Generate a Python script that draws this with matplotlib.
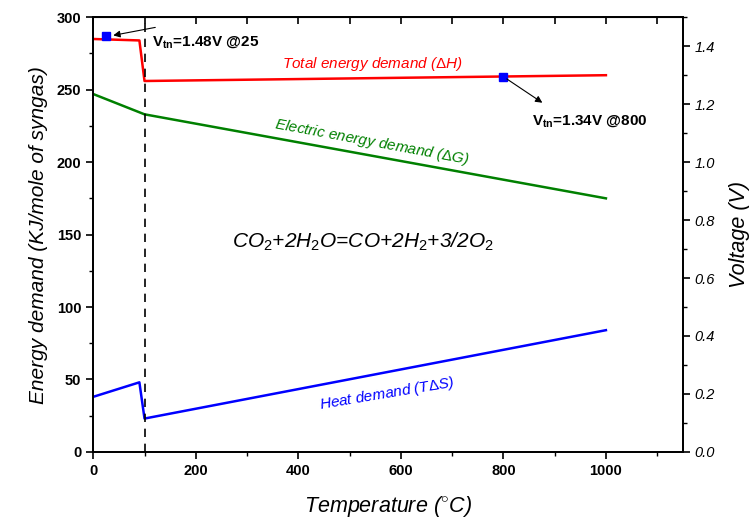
import matplotlib.pyplot as plt
from matplotlib.ticker import MultipleLocator

plt.rcParams['font.family'] = ['Liberation Sans', 'DejaVu Sans']
plt.rcParams['mathtext.fontset'] = 'custom'
plt.rcParams['mathtext.rm'] = 'Liberation Sans'
plt.rcParams['mathtext.it'] = 'Liberation Sans:italic'
plt.rcParams['mathtext.bf'] = 'Liberation Sans:bold'

# data
temp = [0, 90, 100, 1000]
total_dH = [285, 284, 256, 260]
electric_T = [0, 100, 1000]
electric_dG = [247, 233, 175]
heat_TdS = [38, 48, 23, 84]
vtn_temp = [25, 800]
vtn_energy = [287, 259]

fig = plt.figure(figsize=(7.52, 5.23), dpi=100)
ax = fig.add_axes([0.124, 0.136, 0.784, 0.831])

ax.plot(temp, total_dH, color='red', lw=1.8)
ax.plot(electric_T, electric_dG, color='green', lw=1.8)
ax.plot(temp, heat_TdS, color='blue', lw=1.8)
ax.plot(vtn_temp, vtn_energy, 's', color='blue', ms=6, ls='none')
ax.axvline(100, color='black', ls=(0, (5, 4)), lw=1.2)

ax.set_xlim(0, 1150)
ax.set_ylim(0, 300)
ax.xaxis.set_minor_locator(MultipleLocator(100))
ax.yaxis.set_major_locator(MultipleLocator(50))
ax.yaxis.set_minor_locator(MultipleLocator(25))
ax.set_xticks(range(0, 1001, 200))
ax.tick_params(which='major', direction='out', length=5, width=1.2, labelsize=10.5)
ax.tick_params(which='minor', direction='out', length=3, width=1)
for lab in ax.get_xticklabels() + ax.get_yticklabels():
    lab.set_fontweight('bold')
for s in ax.spines.values():
    s.set_linewidth(1.3)

top = ax.secondary_xaxis('top')
top.xaxis.set_major_locator(MultipleLocator(200))
top.xaxis.set_minor_locator(MultipleLocator(100))
top.tick_params(which='both', direction='in', labeltop=False, length=5, width=1.2)

ax.set_xlabel('Temperature ($^{\\circ}$C)', fontsize=15.5, style='italic', labelpad=12)
ax.set_ylabel('Energy demand (KJ/mole of syngas)', fontsize=15, style='italic', labelpad=6)

ax2 = ax.twinx()
ax2.set_ylim(0, 1.5)
ax2.yaxis.set_minor_locator(MultipleLocator(0.1))
ax2.tick_params(which='major', direction='out', length=5, width=1.2, labelsize=10.5)
ax2.tick_params(which='minor', direction='out', length=3, width=1)
ax2.set_yticks([0, 0.2, 0.4, 0.6, 0.8, 1.0, 1.2, 1.4])
ax2.set_yticklabels(['0.0', '0.2', '0.4', '0.6', '0.8', '1.0', '1.2', '1.4'], style='italic')
ax2.set_ylabel('Voltage (V)', fontsize=15.5, style='italic', labelpad=10)
for s in ax2.spines.values():
    s.set_linewidth(1.3)

ax.text(544, 268, 'Total energy demand ($\\Delta$H)', color='red', style='italic',
        fontsize=11, ha='center', va='center')
ax.text(544, 214, 'Electric energy demand ($\\Delta$G)', color='green', style='italic',
        fontsize=11, ha='center', va='center', rotation=-10.5, rotation_mode='anchor')
ax.text(573, 40, 'Heat demand (T$\\Delta$S)', color='blue', style='italic',
        fontsize=11, ha='center', va='center', rotation=9.5, rotation_mode='anchor')
ax.text(525, 145, '$CO_2$+2$H_2$O=CO+2$H_2$+3/2$O_2$', fontsize=15, style='italic',
        ha='center', va='center')

ax.text(115, 283, '$\\mathbf{V_{tn}}$=1.48V @25', fontsize=11, fontweight='bold',
        ha='left', va='center')
ax.annotate('', xy=(39, 287.5), xytext=(121, 293),
            arrowprops=dict(arrowstyle='-|>', color='black', lw=0.8, shrinkA=0, shrinkB=0))
ax.text(855, 228, '$\\mathbf{V_{tn}}$=1.34V @800', fontsize=11, fontweight='bold',
        ha='left', va='center')
ax.annotate('', xy=(876, 241), xytext=(vtn_temp[1], vtn_energy[1]),
            arrowprops=dict(arrowstyle='-|>', color='black', lw=0.8, shrinkA=3, shrinkB=0))

fig.savefig('out.png', dpi=100)
